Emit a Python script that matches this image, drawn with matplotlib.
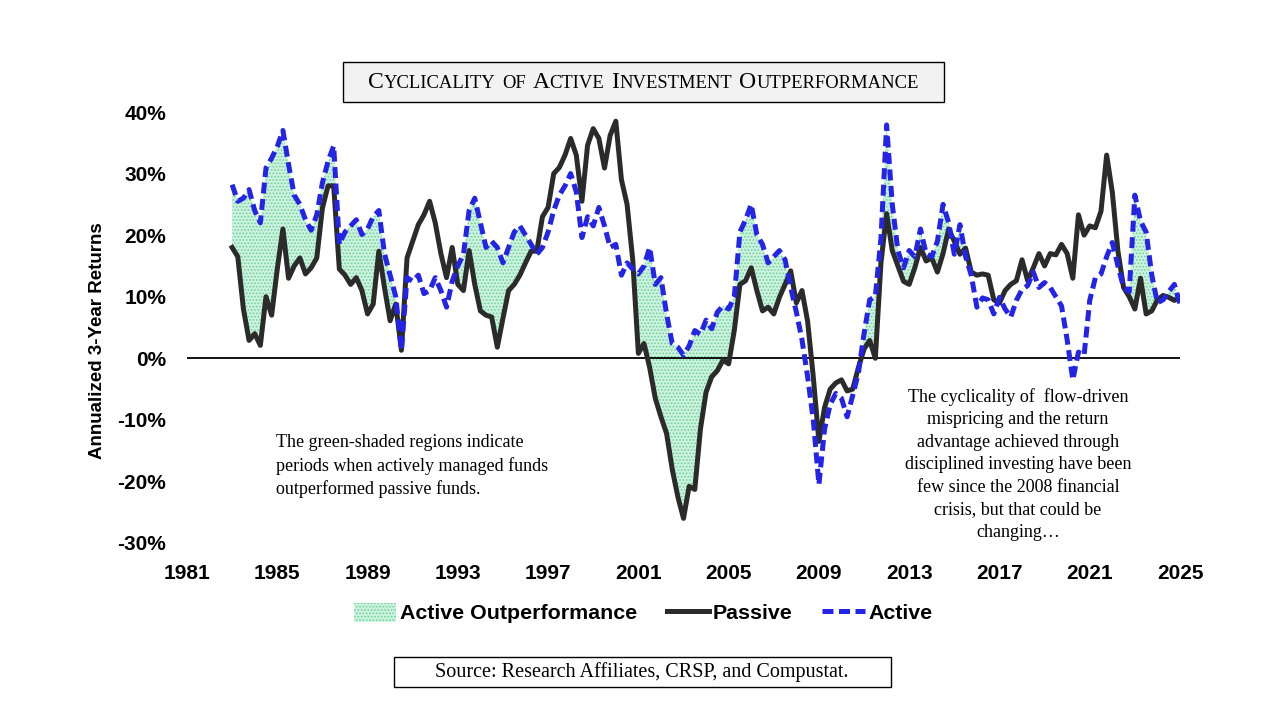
import numpy as np
import matplotlib
matplotlib.use('Agg')
import matplotlib.pyplot as plt
from matplotlib.patches import Patch, Rectangle
from matplotlib.lines import Line2D
from matplotlib.offsetbox import TextArea, HPacker, AnchoredOffsetbox

# ---------------- data (quarterly, annualized 3-year returns, %) ----------------
dates = np.arange(1983.0, 2025.0 + 0.001, 0.25)

passive = [
    18.0, 16.5, 8.0, 2.9,      # 1983
    4.0, 2.1, 10.0, 7.0,       # 1984
    14.5, 21.0, 13.0, 15.0,    # 1985
    16.3, 13.7, 14.7, 16.3,    # 1986
    24.4, 28.0, 28.0, 14.5,    # 1987
    13.5, 12.0, 13.1, 11.0,    # 1988
    7.2, 8.8, 17.4, 11.5,      # 1989
    6.1, 8.8, 1.3, 16.3,       # 1990
    19.0, 21.7, 23.3, 25.5,    # 1991
    22.0, 17.0, 13.1, 18.0,    # 1992
    12.0, 11.0, 17.5, 12.0,    # 1993
    7.7, 7.0, 6.7, 1.8,        # 1994
    6.5, 11.0, 12.0, 13.5,     # 1995
    15.5, 17.4, 17.4, 23.0,    # 1996
    24.5, 30.0, 31.0, 33.0,    # 1997
    35.7, 33.0, 25.5, 34.6,    # 1998
    37.3, 35.7, 30.9, 36.2,    # 1999
    38.5, 29.0, 25.0, 16.0,    # 2000
    0.8, 2.4, -1.5, -6.5,      # 2001
    -9.5, -12.2, -18.0, -22.5, # 2002
    -26.0, -20.8, -21.3, -11.5,# 2003
    -5.5, -3.0, -2.0, -0.3,    # 2004
    -0.9, 4.5, 12.0, 12.6,     # 2005
    14.7, 11.0, 7.7, 8.3,      # 2006
    7.2, 9.9, 12.0, 14.2,      # 2007
    9.0, 11.0, 6.0, -3.0,      # 2008
    -13.5, -8.0, -5.0, -4.0,   # 2009
    -3.5, -5.3, -5.0, -1.5,    # 2010
    1.5, 2.9, 0.0, 15.5,       # 2011
    23.5, 17.5, 15.0, 12.5,    # 2012
    12.0, 14.7, 18.0, 15.8,    # 2013
    16.3, 14.0, 17.0, 21.0,    # 2014
    19.0, 16.9, 17.9, 14.0,    # 2015
    13.5, 13.7, 13.5, 9.5,     # 2016
    9.0, 11.0, 12.0, 12.6,     # 2017
    16.0, 12.6, 14.7, 17.0,    # 2018
    15.0, 17.0, 16.8, 18.5,    # 2019
    17.0, 13.0, 23.3, 20.0,    # 2020
    21.5, 21.2, 23.9, 33.0,    # 2021
    27.0, 17.4, 11.5, 10.0,    # 2022
    8.0, 13.0, 7.2, 7.7,       # 2023
    9.5, 10.2, 9.9, 9.4,       # 2024
    9.9,                       # 2025
]

active = [
    28.2, 25.5, 26.0, 27.4,    # 1983
    24.0, 22.0, 30.9, 32.5,    # 1984
    34.4, 37.0, 31.5, 26.5,    # 1985
    25.0, 22.5, 20.8, 23.3,    # 1986
    28.5, 32.0, 34.5, 18.5,    # 1987
    20.5, 21.5, 22.5, 20.1,    # 1988
    21.0, 23.0, 24.0, 17.0,    # 1989
    13.5, 10.0, 1.3, 13.1,     # 1990
    12.5, 13.5, 10.5, 11.0,    # 1991
    13.1, 11.0, 8.3, 12.5,     # 1992
    15.0, 16.9, 24.0, 26.0,    # 1993
    22.0, 18.0, 19.0, 18.0,    # 1994
    15.5, 18.0, 20.5, 21.5,    # 1995
    20.0, 18.5, 16.9, 18.0,    # 1996
    20.5, 24.0, 26.5, 28.0,    # 1997
    30.0, 27.0, 19.6, 23.0,    # 1998
    21.5, 24.5, 21.5, 18.0,    # 1999
    18.5, 13.5, 15.5, 14.5,    # 2000
    13.7, 15.0, 18.0, 12.0,    # 2001
    13.1, 7.2, 2.4, 1.8,       # 2002
    0.5, 2.0, 4.5, 3.9,        # 2003
    6.2, 4.8, 7.5, 8.5,        # 2004
    8.0, 10.0, 20.5, 22.5,     # 2005
    25.0, 20.1, 18.5, 15.5,    # 2006
    16.5, 17.5, 16.0, 11.5,    # 2007
    7.5, 3.0, -3.0, -10.0,     # 2008
    -20.5, -11.5, -7.5, -5.7,  # 2009
    -6.5, -9.5, -6.0, -2.4,    # 2010
    4.0, 9.5, 10.0, 19.5,      # 2011
    37.9, 25.0, 17.5, 14.7,    # 2012
    17.5, 16.5, 21.0, 17.0,    # 2013
    16.5, 19.0, 25.0, 22.0,    # 2014
    16.9, 21.7, 16.5, 13.5,    # 2015
    8.3, 9.8, 9.5, 7.2,        # 2016
    9.9, 8.0, 6.7, 9.4,        # 2017
    11.2, 11.8, 14.0, 11.5,    # 2018
    12.3, 11.5, 10.0, 8.5,     # 2019
    3.0, -3.5, 1.0, 0.5,       # 2020
    9.4, 13.1, 13.7, 16.5,     # 2021
    18.8, 15.0, 11.5, 10.8,    # 2022
    26.5, 22.3, 20.5, 13.5,    # 2023
    9.0, 9.5, 10.8, 12.0,      # 2024
    8.8,                       # 2025
]

x_ticks = [1981, 1985, 1989, 1993, 1997, 2001, 2005, 2009, 2013, 2017, 2021, 2025]
y_ticks = [-30, -20, -10, 0, 10, 20, 30, 40]

title_words = ["Cyclicality", "of", "Active", "Investment", "Outperformance"]
source_text = "Source: Research Affiliates, CRSP, and Compustat."
note_left = ("The green-shaded regions indicate\n"
             "periods when actively managed funds\n"
             "outperformed passive funds.")
note_right = ("The cyclicality of  flow-driven\n"
              "mispricing and the return\n"
              "advantage achieved through\n"
              "disciplined investing have been\n"
              "few since the 2008 financial\n"
              "crisis, but that could be\n"
              "changing\u2026")

# ---------------- style ----------------
SANS = ['Liberation Sans', 'DejaVu Sans']
SERIF = ['Liberation Serif', 'DejaVu Serif']
C_PASSIVE = '#2b2b2b'
C_ACTIVE = '#2424e8'
C_FILL = '#cdf2de'
C_HATCH = '#6fd39c'

plt.rcParams['hatch.linewidth'] = 0.8

W, H = 1280, 720
fig = plt.figure(figsize=(W / 100, H / 100), dpi=100)
fig.patch.set_facecolor('white')

ax_l, ax_r, ax_t, ax_b = 187, 1180, 112, 543
ax = fig.add_axes([ax_l / W, 1 - ax_b / H, (ax_r - ax_l) / W, (ax_b - ax_t) / H])

pas = np.array(passive)
act = np.array(active)

ax.fill_between(dates, pas, act, where=act >= pas, interpolate=True,
                facecolor=C_FILL, edgecolor=C_HATCH, hatch='.....',
                linewidth=0, zorder=1)
ax.axhline(0, color='black', lw=1.3, zorder=2)
ax.plot(dates, pas, color=C_PASSIVE, lw=3.6, solid_joinstyle='round', zorder=3)
ax.plot(dates, act, color=C_ACTIVE, lw=3.6, linestyle=(0, (2.2, 1.1)),
        dash_capstyle='butt', zorder=4)

ax.set_xlim(1981, 2025)
ax.set_ylim(-30, 40)
ax.set_xticks(x_ticks)
ax.set_xticklabels([str(t) for t in x_ticks])
ax.set_yticks(y_ticks)
ax.set_yticklabels([f"{t}%" for t in y_ticks])
for s in ax.spines.values():
    s.set_visible(False)
ax.tick_params(axis='x', length=0, pad=15)
ax.tick_params(axis='y', length=0, pad=15)
for lab in ax.get_xticklabels() + ax.get_yticklabels():
    lab.set_fontfamily(SANS)
    lab.set_fontweight('bold')
    lab.set_fontsize(15)
ax.set_facecolor('none')

fig.text(97 / W, 1 - 341 / H, "Annualized 3-Year Returns", rotation=90,
         ha='center', va='center', fontsize=13.5, fontweight='bold', family=SANS)

# annotations
fig.text(276 / W, 1 - 434 / H, note_left, ha='left', va='top',
         fontsize=13, family=SERIF, linespacing=1.42)
fig.text(1018 / W, 1 - 388 / H, note_right, ha='center', va='top',
         fontsize=13, family=SERIF, linespacing=1.42)

# title box
fig.patches.append(Rectangle((343 / W, 1 - 102 / H), (944 - 343) / W, 40 / H,
                             transform=fig.transFigure, facecolor='#f2f2f2',
                             edgecolor='black', lw=1.0, zorder=5))
BIG, SMALL = 17, 13.4
words = []
for w in title_words:
    parts = []
    if w == "of":
        parts.append(TextArea(w.upper(), textprops=dict(fontsize=SMALL, family=SERIF)))
    else:
        parts.append(TextArea(w[0].upper(), textprops=dict(fontsize=BIG, family=SERIF)))
        parts.append(TextArea(w[1:].upper(), textprops=dict(fontsize=SMALL, family=SERIF)))
    words.append(HPacker(children=parts, align='baseline', pad=0, sep=0))
title_pack = HPacker(children=words, align='baseline', pad=0, sep=5)
anch = AnchoredOffsetbox(loc='center', child=title_pack, pad=0, frameon=False,
                         bbox_to_anchor=(643 / W, 1 - 82 / H),
                         bbox_transform=fig.transFigure, borderpad=0)
anch.set_zorder(6)
fig.add_artist(anch)

# source box
fig.patches.append(Rectangle((394 / W, 1 - 687 / H), (891 - 394) / W, 30 / H,
                             transform=fig.transFigure, facecolor='white',
                             edgecolor='black', lw=1.0, zorder=5))
fig.text(642 / W, 1 - 672 / H, source_text, ha='center', va='center',
         fontsize=14.5, family=SERIF, zorder=6)

# legend
handles = [
    Patch(facecolor=C_FILL, edgecolor=C_HATCH, hatch='.....', linewidth=0),
    Line2D([], [], color=C_PASSIVE, lw=3.6),
    Line2D([], [], color=C_ACTIVE, lw=3.6, linestyle=(0, (2.2, 1.1))),
]
labels = ["Active Outperformance", "Passive", "Active"]
leg = fig.legend(handles, labels, loc='center', bbox_to_anchor=(643 / W, 1 - 613 / H),
                 ncol=3, frameon=False, handlelength=2.0, handleheight=1.0,
                 handletextpad=0.15, columnspacing=1.4,
                 prop=dict(family=SANS, weight='bold', size=15.4))

fig.savefig('out.png', dpi=100)
